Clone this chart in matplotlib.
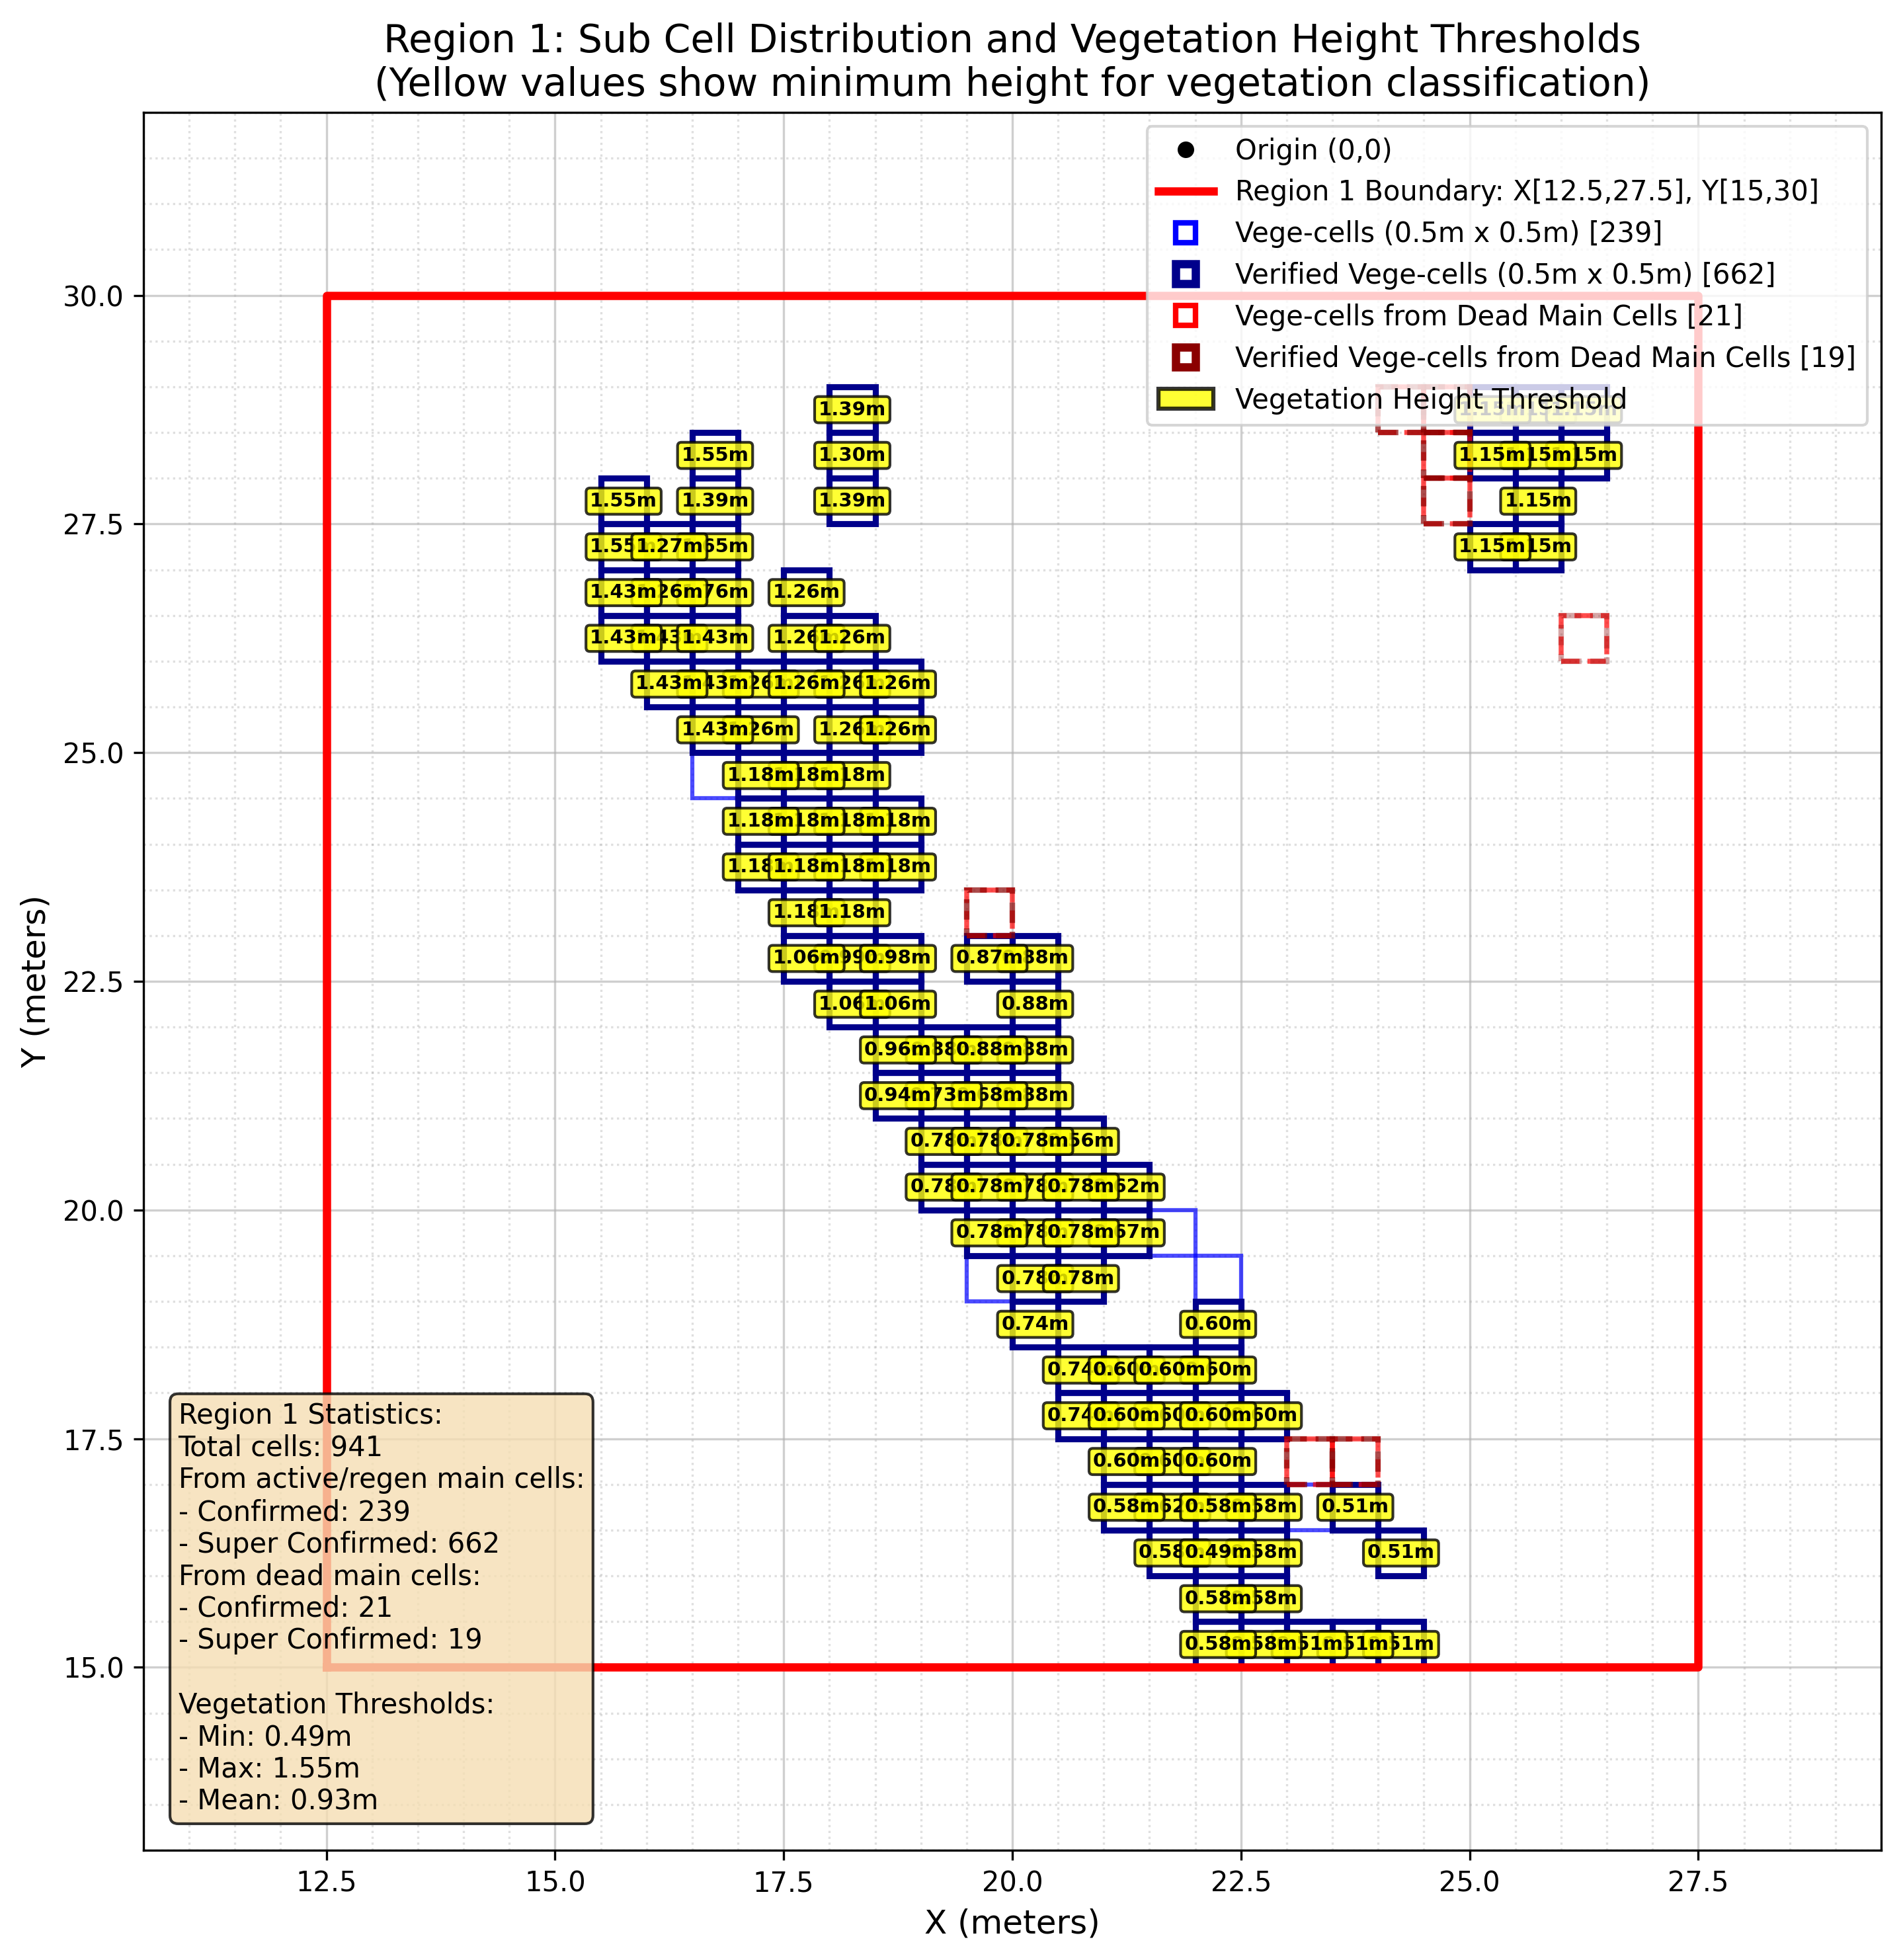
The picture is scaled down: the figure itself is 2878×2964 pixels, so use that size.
import matplotlib
matplotlib.use('Agg')
import matplotlib.pyplot as plt
import matplotlib.patches as mpatches
import numpy as np

# ---------------- data ----------------
CELL = 0.5
region_x = [12.5, 27.5]
region_y = [15.0, 30.0]

n_confirmed = 239
n_super = 662
n_dead_confirmed = 21
n_dead_super = 19
n_total = 941
thr_min, thr_max, thr_mean = 0.49, 1.55, 0.93

# verified (super confirmed) vege-cells: lower-left corners, per row y0 -> x0 list
verified_rows = {
    28.5: [18.0, 25.0, 25.5, 26.0],
    28.0: [16.5, 18.0, 25.0, 25.5, 26.0],
    27.5: [15.5, 16.5, 18.0, 25.5],
    27.0: [15.5, 16.0, 16.5, 25.0, 25.5],
    26.5: [15.5, 16.0, 16.5, 17.5],
    26.0: [15.5, 16.0, 16.5, 17.5, 18.0],
    25.5: [16.0, 16.5, 17.0, 17.5, 18.0, 18.5],
    25.0: [16.5, 17.0, 17.5, 18.0, 18.5],
    24.5: [17.0, 17.5, 18.0],
    24.0: [17.0, 17.5, 18.0, 18.5],
    23.5: [17.0, 17.5, 18.0, 18.5],
    23.0: [17.5, 18.0],
    22.5: [17.5, 18.0, 18.5, 19.5, 20.0],
    22.0: [18.0, 18.5, 20.0],
    21.5: [18.5, 19.0, 19.5, 20.0],
    21.0: [18.5, 19.0, 19.5, 20.0],
    20.5: [19.0, 19.5, 20.0, 20.5],
    20.0: [19.0, 19.5, 20.0, 20.5, 21.0],
    19.5: [19.5, 20.0, 20.5, 21.0],
    19.0: [20.0, 20.5],
    18.5: [20.0, 22.0],
    18.0: [20.5, 21.0, 21.5, 22.0],
    17.5: [20.5, 21.0, 21.5, 22.0, 22.5],
    17.0: [21.0, 21.5, 22.0],
    16.5: [21.0, 21.5, 22.0, 22.5, 23.5],
    16.0: [21.5, 22.0, 22.5, 24.0],
    15.5: [22.0, 22.5],
    15.0: [22.0, 22.5, 23.0, 23.5, 24.0],
}

# confirmed (not verified) vege-cells
confirmed_cells = [(16.5, 24.5), (19.5, 19.0), (21.5, 19.5), (22.0, 19.0), (23.0, 16.5)]

# cells from dead main cells
dead_cells = [(24.0, 28.5), (24.5, 28.5), (24.5, 28.0), (24.5, 27.5),
              (26.0, 26.0), (19.5, 23.0), (23.0, 17.0), (23.5, 17.0)]
dead_verified_cells = [(24.0, 28.5), (24.5, 28.5), (24.5, 28.0), (24.5, 27.5),
                       (19.5, 23.0), (23.0, 17.0), (23.5, 17.0)]
dead_extra_cells = [(26.0, 26.0)]

# height threshold labels (cell centres), in drawing order
label_x = [
    18.25,
    16.75, 18.25,
    15.75, 16.75, 18.25,
    15.75, 16.75, 16.25,
    16.75, 16.25, 15.75, 17.75,
    16.25, 15.75, 16.75, 17.75, 18.25,
    17.25, 16.75, 16.25, 18.25, 17.75, 18.75,
    17.25, 16.75, 18.25, 18.75,
    18.25, 17.75, 17.25,
    18.75, 18.25, 17.75, 17.25,
    17.25, 18.75, 18.25, 17.75,
    17.75, 18.25,
    18.25, 17.75, 18.75, 20.25, 19.75,
    18.25, 18.75, 20.25,
    19.25, 20.25, 18.75, 19.75,
    20.25, 19.75, 19.25, 18.75,
    19.25, 19.75, 20.75, 20.25,
    19.25, 20.25, 19.75, 21.25, 20.75,
    20.25, 19.75, 21.25, 20.75,
    20.25, 20.75,
    20.25, 22.25,
    20.75, 21.25, 22.25, 21.75,
    20.75, 21.75, 21.25, 22.75, 22.25,
    21.75, 21.25, 22.25,
    21.75, 21.25, 22.75, 22.25, 23.75,
    21.75, 22.75, 22.25, 24.25,
    22.75, 22.25,
    24.25, 23.75, 23.25, 22.75, 22.25,
    25.75, 25.25, 26.25,
    26.25, 25.75, 25.25,
    25.75,
    25.75, 25.25,
]
label_y = (
    [28.75] * 1 + [28.25] * 2 + [27.75] * 3 + [27.25] * 3 + [26.75] * 4 +
    [26.25] * 5 + [25.75] * 6 + [25.25] * 4 + [24.75] * 3 + [24.25] * 4 +
    [23.75] * 4 + [23.25] * 2 + [22.75] * 5 + [22.25] * 3 + [21.75] * 4 +
    [21.25] * 4 + [20.75] * 4 + [20.25] * 5 + [19.75] * 4 + [19.25] * 2 +
    [18.75] * 2 + [18.25] * 4 + [17.75] * 5 + [17.25] * 3 + [16.75] * 5 +
    [16.25] * 4 + [15.75] * 2 + [15.25] * 5 +
    [28.75] * 3 + [28.25] * 3 + [27.75] * 1 + [27.25] * 2
)
label_val = [
    1.39,
    1.55, 1.30,
    1.55, 1.39, 1.39,
    1.55, 1.65, 1.27,
    1.76, 1.26, 1.43, 1.26,
    1.43, 1.43, 1.43, 1.26, 1.26,
    1.26, 1.43, 1.43, 1.26, 1.26, 1.26,
    1.26, 1.43, 1.26, 1.26,
    1.18, 1.18, 1.18,
    1.18, 1.18, 1.18, 1.18,
    1.18, 1.18, 1.18, 1.18,
    1.18, 1.18,
    0.99, 1.06, 0.98, 0.88, 0.87,
    1.06, 1.06, 0.88,
    0.88, 0.88, 0.96, 0.88,
    0.88, 0.68, 0.73, 0.94,
    0.78, 0.78, 0.56, 0.78,
    0.78, 0.78, 0.78, 0.62, 0.78,
    0.78, 0.78, 0.67, 0.78,
    0.78, 0.78,
    0.74, 0.60,
    0.74, 0.60, 0.60, 0.60,
    0.74, 0.60, 0.60, 0.60, 0.60,
    0.60, 0.60, 0.60,
    0.62, 0.58, 0.58, 0.58, 0.51,
    0.58, 0.58, 0.49, 0.51,
    0.58, 0.58,
    0.51, 0.51, 0.51, 0.58, 0.58,
    1.15, 1.15, 1.15,
    1.15, 1.15, 1.15,
    1.15,
    1.15, 1.15,
]

verified_cells = [(x, y) for y, xs in verified_rows.items() for x in xs]

# ---------------- figure ----------------
W, H, DPI = 2878, 2964, 300
fig = plt.figure(figsize=(W / DPI, H / DPI), dpi=DPI)
ax = fig.add_axes([217 / W, (H - 2798) / H, 2628 / W, 2628 / H])

ax.plot([], [], 'o', color='black', markersize=5, label='Origin (0,0)')
bx = [region_x[0], region_x[1], region_x[1], region_x[0], region_x[0]]
by = [region_y[0], region_y[0], region_y[1], region_y[1], region_y[0]]
ax.plot(bx, by, 'r-', linewidth=3, zorder=3,
        label=f'Region 1 Boundary: X[{region_x[0]},{region_x[1]}], Y[{region_y[0]:g},{region_y[1]:g}]')

for (x, y) in confirmed_cells:
    ax.add_patch(mpatches.Rectangle((x, y), CELL, CELL, fill=False,
                                    edgecolor='blue', linewidth=1.5, alpha=0.7, zorder=2))
for (x, y) in verified_cells:
    ax.add_patch(mpatches.Rectangle((x, y), CELL, CELL, fill=False,
                                    edgecolor='darkblue', linewidth=2.2, alpha=1.0, zorder=2.1))
for (x, y) in dead_cells:
    ax.add_patch(mpatches.Rectangle((x, y), CELL, CELL, fill=False,
                                    edgecolor='red', linewidth=1.8, linestyle='--',
                                    alpha=0.7, zorder=2.2))
for (x, y) in dead_verified_cells:
    ax.add_patch(mpatches.Rectangle((x, y), CELL, CELL, fill=False,
                                    edgecolor='darkred', linewidth=2, linestyle='--',
                                    alpha=0.7, zorder=2.3))
for (x, y) in dead_extra_cells:
    ax.add_patch(mpatches.Rectangle((x, y), CELL, CELL, fill=False,
                                    edgecolor='darkred', linewidth=2, linestyle='--',
                                    alpha=0.35, zorder=2.3))

for i, (x, y, v) in enumerate(zip(label_x, label_y, label_val)):
    ax.text(x, y, f'{v:.2f}m', ha='center', va='center', fontsize=7,
            fontweight='bold', color='black', zorder=5 + i * 0.001,
            bbox=dict(boxstyle='round,pad=0.2', facecolor='yellow',
                      edgecolor='black', alpha=0.8))

ax.plot([], [], 's', markerfacecolor='none', markeredgecolor='blue', markersize=7,
        markeredgewidth=2, label=f'Vege-cells (0.5m x 0.5m) [{n_confirmed}]')
ax.plot([], [], 's', markerfacecolor='none', markeredgecolor='darkblue', markersize=7,
        markeredgewidth=3, label=f'Verified Vege-cells (0.5m x 0.5m) [{n_super}]')
ax.plot([], [], 's', markerfacecolor='none', markeredgecolor='red', markersize=7,
        markeredgewidth=2, label=f'Vege-cells from Dead Main Cells [{n_dead_confirmed}]')
ax.plot([], [], 's', markerfacecolor='none', markeredgecolor='darkred', markersize=7,
        markeredgewidth=3, label=f'Verified Vege-cells from Dead Main Cells [{n_dead_super}]')
handles, labels = ax.get_legend_handles_labels()
handles.append(mpatches.Patch(facecolor='yellow', edgecolor='black', alpha=0.8,
                              linewidth=1.5))
labels.append('Vegetation Height Threshold')
leg = ax.legend(handles, labels, loc='upper right', fontsize=10)
leg.set_zorder(20)

stats = (f"Region 1 Statistics:\nTotal cells: {n_total}\n"
         f"From active/regen main cells:\n- Confirmed: {n_confirmed}\n"
         f"- Super Confirmed: {n_super}\nFrom dead main cells:\n"
         f"- Confirmed: {n_dead_confirmed}\n- Super Confirmed: {n_dead_super}\n\n"
         f"Vegetation Thresholds:\n- Min: {thr_min:.2f}m\n- Max: {thr_max:.2f}m\n"
         f"- Mean: {thr_mean:.2f}m")
ax.text(0.02, 0.02, stats, transform=ax.transAxes, fontsize=10, va='bottom',
        ha='left', zorder=10,
        bbox=dict(boxstyle='round', facecolor='wheat', alpha=0.8))

ax.set_xlim(region_x[0] - 2, region_x[1] + 2)
ax.set_ylim(region_y[0] - 2, region_y[1] + 2)
ax.set_xticks(np.arange(12.5, 27.6, 2.5))
ax.set_yticks(np.arange(15.0, 30.1, 2.5))
ax.set_xticks(np.arange(10.5, 29.6, 0.5), minor=True)
ax.set_yticks(np.arange(13.0, 32.1, 0.5), minor=True)
ax.tick_params(which='minor', length=0)
ax.tick_params(labelsize=10)
ax.grid(True, which='major', alpha=0.6, zorder=0)
ax.grid(True, which='minor', linestyle=':', alpha=0.4, zorder=0)
ax.set_axisbelow(True)

ax.set_xlabel('X (meters)', fontsize=12)
ax.set_ylabel('Y (meters)', fontsize=12)
ax.set_title('Region 1: Sub Cell Distribution and Vegetation Height Thresholds\n'
             '(Yellow values show minimum height for vegetation classification)',
             fontsize=14)

fig.savefig('out.png', dpi=DPI)
